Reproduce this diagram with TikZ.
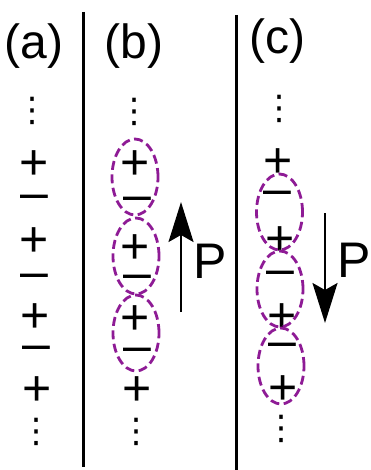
\documentclass[tikz,border=0pt]{standalone}
\usepackage{fontspec}
\setmainfont{Liberation Sans}
\newfontfamily\dotsfont{DejaVu Sans}
\usetikzlibrary{arrows.meta,shapes.geometric}
\definecolor{Ink}{HTML}{000000}
\definecolor{Dipole}{HTML}{8E1B95}
\tikzset{plussign/.style={font=\fontsize{50}{50}\selectfont,inner sep=0pt,text height=35pt,text depth=0pt},minussign/.style={font=\fontsize{50}{50}\selectfont,inner sep=0pt,text height=25.4pt,text depth=0pt},vdotsign/.style={font=\dotsfont\fontsize{34}{34}\selectfont,inner sep=0pt},panellabel/.style={font=\fontsize{48}{48}\selectfont,inner sep=0pt,anchor=base},polletter/.style={font=\fontsize{50}{50}\selectfont,inner sep=0pt,anchor=base},pairloop/.style={ellipse,draw=Dipole,line width=2.8pt,dash pattern=on 9pt off 4.5pt,minimum width=46pt,minimum height=76pt,inner sep=0pt},polarrow/.style={draw=Ink,line width=2pt,-{Stealth[length=40pt,width=25pt,inset=7pt]}},divider/.style={draw=Ink,line width=3pt}}
\begin{document}
\begin{tikzpicture}[x=1pt,y=-1pt,text=Ink]
\useasboundingbox (0,0) rectangle (370,470);
\draw[divider] (83,12)--(83,467);\draw[divider] (236,15)--(236,470);
\node[panellabel] (la) at (34,59) {(a)};\node[panellabel] (lb) at (134,59) {(b)};\node[panellabel] (lc) at (277,54) {(c)};
\node[vdotsign] (atop) at (33,111) {⋮};\node[vdotsign] (abot) at (36,432) {⋮};
\node[plussign] (a1) at (34,162) {+};\node[minussign] (a2) at (34,197) {–};\node[plussign] (a3) at (34,239) {+};\node[minussign] (a4) at (34,276) {–};
\node[plussign] (a5) at (35,315) {+};\node[minussign] (a6) at (36,348) {–};\node[plussign] (a7) at (37,388) {+};
\node[vdotsign] (btop) at (134,112) {⋮};\node[vdotsign] (bbot) at (136,432) {⋮};
\node[plussign] (b1) at (135,162) {+};\node[minussign] (b2) at (137,199) {–};\node[plussign] (b3) at (135,246) {+};\node[minussign] (b4) at (137,277) {–};
\node[plussign] (b5) at (135,317) {+};\node[minussign] (b6) at (137,350) {–};\node[plussign] (b7) at (137,388) {+};
\node[pairloop] (bpair1) at (135,177) {};\node[pairloop] (bpair2) at (136,256) {};\node[pairloop] (bpair3) at (136,333) {};
\node[vdotsign] (ctop) at (279,109) {⋮};\node[vdotsign] (cbot) at (281,429) {⋮};
\node[plussign] (c1) at (278,160) {+};\node[minussign] (c2) at (277,193) {–};\node[plussign] (c3) at (280,238) {+};\node[minussign] (c4) at (280,273) {–};
\node[plussign] (c5) at (282,315) {+};\node[minussign] (c6) at (282,345) {–};\node[plussign] (c7) at (283,387) {+};
\node[pairloop] (cpair1) at (279.5,212) {};\node[pairloop] (cpair2) at (280,289) {};\node[pairloop] (cpair3) at (281,366) {};
\coordinate (bfoot) at (181,312);\coordinate (bhead) at (181,202);\draw[polarrow] (bfoot)--(bhead);
\coordinate (ctail) at (325,213);\coordinate (ctip) at (325,323);\draw[polarrow] (ctail)--(ctip);
\node[polletter] (pb) at (210,278) {P};\node[polletter] (pc) at (354,277) {P};
\end{tikzpicture}
\end{document}
